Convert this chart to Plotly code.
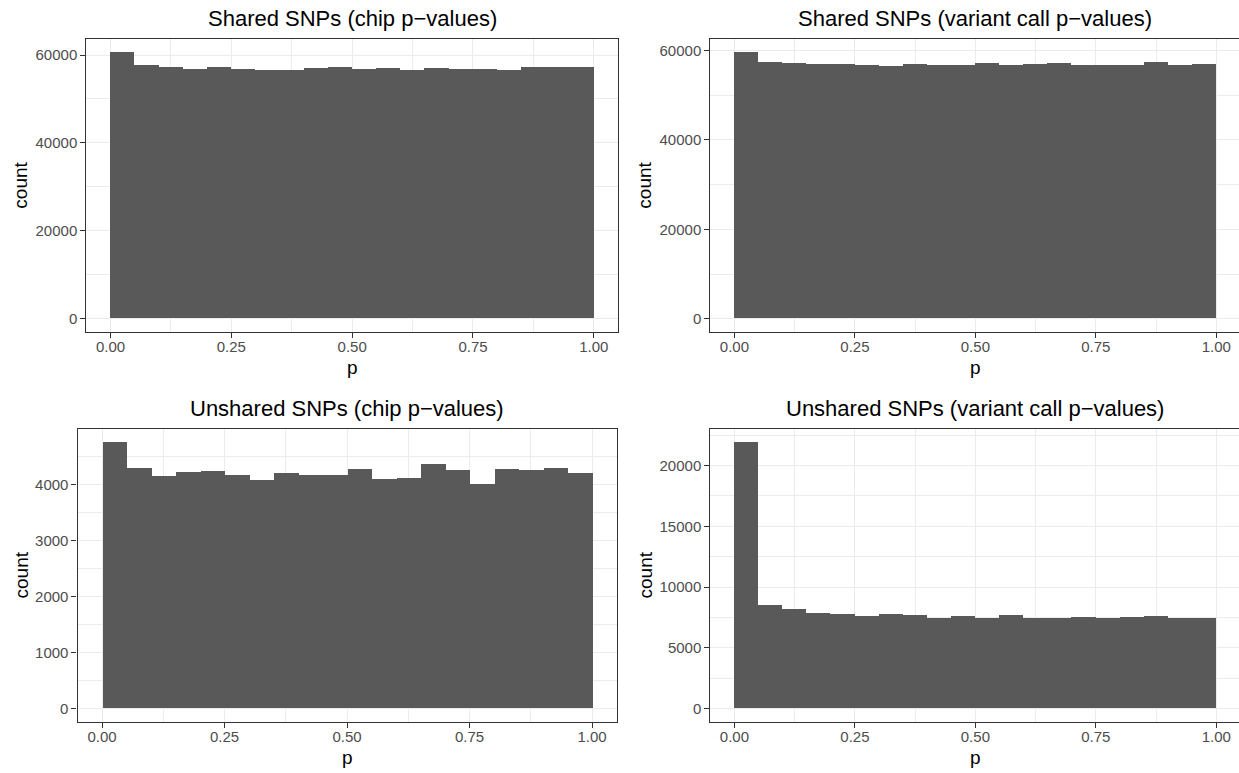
import plotly.graph_objects as go

# ---- data ----
bin_centers = [0.025, 0.075, 0.125, 0.175, 0.225, 0.275, 0.325, 0.375, 0.425, 0.475,
               0.525, 0.575, 0.625, 0.675, 0.725, 0.775, 0.825, 0.875, 0.925, 0.975]
bin_width = 0.05

shared_chip = [60550, 57600, 57150, 56700, 57150, 56700, 56470, 56470, 56930, 57150,
               56700, 56930, 56470, 56930, 56700, 56700, 56470, 57150, 57150, 57150]
shared_variant = [59540, 57310, 57090, 56870, 56870, 56640, 56420, 56870, 56640, 56640,
                  57090, 56640, 56870, 57090, 56640, 56640, 56640, 57310, 56640, 56870]
unshared_chip = [4747, 4284, 4142, 4213, 4231, 4160, 4071, 4195, 4160, 4160,
                 4267, 4089, 4106, 4356, 4249, 4000, 4267, 4249, 4284, 4195]
unshared_variant = [21896, 8514, 8185, 7857, 7775, 7611, 7775, 7693, 7446, 7611,
                    7446, 7693, 7446, 7446, 7529, 7446, 7529, 7611, 7446, 7446]

titles = ["Shared SNPs (chip p\u2212values)", "Shared SNPs (variant call p\u2212values)",
          "Unshared SNPs (chip p\u2212values)", "Unshared SNPs (variant call p\u2212values)"]

x_tickvals = [0.0, 0.25, 0.5, 0.75, 1.0]
x_ticktext = ["0.00", "0.25", "0.50", "0.75", "1.00"]

y_ticks_shared = [0, 20000, 40000, 60000]
y_ticks_unshared_chip = [0, 1000, 2000, 3000, 4000]
y_ticks_unshared_variant = [0, 5000, 10000, 15000, 20000]

# ---- layout geometry (pixels) ----
W, H = 1239, 773
FONT = "Liberation Sans"
BAR = "#595959"
GRID = "#ebebeb"
DARK = "#333333"
TICKC = "#4d4d4d"

panels = [
    dict(data=shared_chip, yt=y_ticks_shared, ym=10000, l=86.3, r=618.0, t=39.3, b=332.0, xr=1.05, rb=True),
    dict(data=shared_variant, yt=y_ticks_shared, ym=10000, l=710.3, r=1239.0, t=39.3, b=332.0, xr=1.047, rb=False),
    dict(data=unshared_chip, yt=y_ticks_unshared_chip, ym=500, l=77.5, r=616.5, t=429.3, b=721.7, xr=1.05, rb=True),
    dict(data=unshared_variant, yt=y_ticks_unshared_variant, ym=2500, l=710.3, r=1239.0, t=429.3, b=721.7, xr=1.047, rb=False),
]

fig = go.Figure()
layout = dict(
    width=W, height=H,
    margin=dict(l=0, r=0, t=0, b=0),
    paper_bgcolor="white", plot_bgcolor="white",
    showlegend=False, bargap=0,
    font=dict(family=FONT, color="black"),
)
annotations = []

for i, p in enumerate(panels):
    n = i + 1
    xa = "x" if n == 1 else f"x{n}"
    ya = "y" if n == 1 else f"y{n}"
    fig.add_trace(go.Bar(x=bin_centers, y=p["data"], width=bin_width,
                         marker=dict(color=BAR, line=dict(width=0)),
                         xaxis=xa, yaxis=ya, hoverinfo="x+y"))
    ymax = max(p["data"])
    xdom = [p["l"] / W, p["r"] / W]
    ydom = [1 - p["b"] / H, 1 - p["t"] / H]
    layout["xaxis" if n == 1 else f"xaxis{n}"] = dict(
        domain=xdom, anchor=ya, range=[-0.05, p["xr"]],
        tickvals=x_tickvals, ticktext=x_ticktext,
        ticks="outside", ticklen=5, tickwidth=1.1, tickcolor=DARK,
        ticklabelstandoff=-4,
        tickfont=dict(size=15, color=TICKC, family=FONT),
        showline=True, linecolor=DARK, linewidth=1.1, mirror=True,
        showgrid=True, gridcolor=GRID, gridwidth=1.3,
        minor=dict(tick0=0, dtick=0.125, showgrid=True, gridcolor=GRID, gridwidth=0.8, ticks=""),
        zeroline=False, fixedrange=True,
    )
    layout["yaxis" if n == 1 else f"yaxis{n}"] = dict(
        domain=ydom, anchor=xa, range=[-0.05 * ymax, 1.05 * ymax],
        tickvals=p["yt"], ticktext=[str(v) for v in p["yt"]],
        ticks="outside", ticklen=5, tickwidth=1.1, tickcolor=DARK,
        tickfont=dict(size=15, color=TICKC, family=FONT),
        showline=True, linecolor=DARK, linewidth=1.1, mirror=p["rb"],
        showgrid=True, gridcolor=GRID, gridwidth=1.3,
        minor=dict(tick0=0, dtick=p["ym"], showgrid=True, gridcolor=GRID, gridwidth=0.8, ticks=""),
        zeroline=False, fixedrange=True,
    )
    cx = (p["l"] + (p["l"] + (1.05 + 0.05) / (p["xr"] + 0.05) * (p["r"] - p["l"]))) / 2
    annotations.append(dict(text=titles[i], x=cx / W, y=1 - (p["t"] - 20.5) / H,
                            xref="paper", yref="paper", xanchor="center", yanchor="middle",
                            showarrow=False, font=dict(size=22, color="black", family=FONT)))
    annotations.append(dict(text="p", x=cx / W, y=1 - (p["b"] + 35.5) / H,
                            xref="paper", yref="paper", xanchor="center", yanchor="middle",
                            showarrow=False, font=dict(size=19, color="black", family=FONT)))
    ycx = 21 if p["l"] < 300 else 645
    annotations.append(dict(text="count", x=ycx / W, y=1 - ((p["t"] + p["b"]) / 2) / H,
                            xref="paper", yref="paper", xanchor="center", yanchor="middle",
                            textangle=-90, showarrow=False,
                            font=dict(size=19, color="black", family=FONT)))

layout["annotations"] = annotations
fig.update_layout(**layout)
fig.write_html("out.html")
